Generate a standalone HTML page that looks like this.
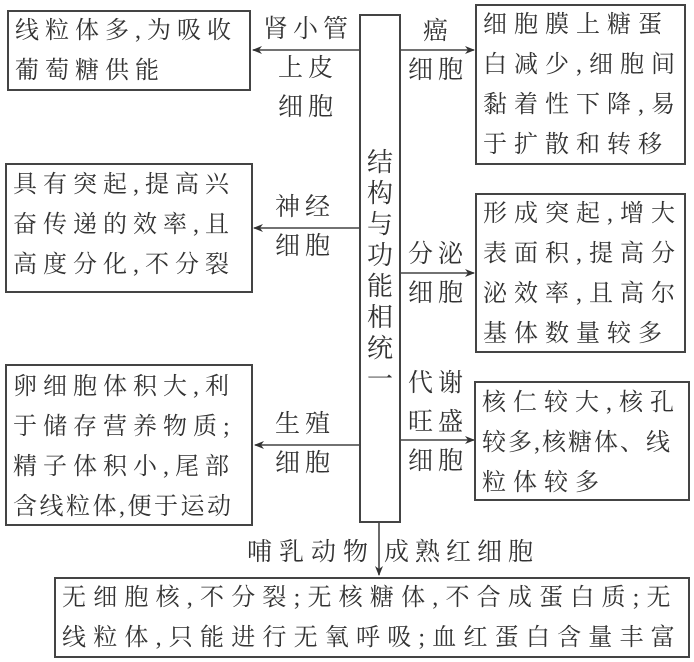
<!DOCTYPE html>
<html><head><meta charset="utf-8"><style>
body{margin:0;width:694px;height:662px;background:#fff;position:relative;overflow:hidden;font-family:"Liberation Serif","Noto Serif CJK SC",serif;color:#333}
.b{position:absolute;border:2px solid #444;box-sizing:border-box}
.t{position:absolute;font-size:24px;line-height:40px;letter-spacing:6px;white-space:nowrap}
.r{letter-spacing:7px}
.l{position:absolute;font-size:25px;line-height:39px;letter-spacing:5px;white-space:nowrap;text-align:center}
</style></head><body>
<svg width="694" height="662" style="position:absolute;left:0;top:0">
<defs><marker id="a" markerWidth="10" markerHeight="10" refX="9" refY="5" orient="auto" markerUnits="userSpaceOnUse"><path d="M0,1 L10,5 L0,9 L3,5z" fill="#333"/></marker></defs>
<g stroke="#444" stroke-width="1.6" marker-end="url(#a)">
<line x1="359" y1="50" x2="253" y2="50"/>
<line x1="359" y1="228" x2="254" y2="228"/>
<line x1="359" y1="445" x2="255" y2="445"/>
<line x1="400" y1="50" x2="474" y2="50"/>
<line x1="400" y1="273" x2="474" y2="273"/>
<line x1="400" y1="440" x2="474" y2="440"/>
<line x1="379" y1="523" x2="379" y2="575"/>
</g></svg>
<div class="b" style="left:359px;top:14px;width:42px;height:509px"></div>
<div class="l" style="left:359px;top:147px;width:42px;font-size:26px;line-height:31px;letter-spacing:0;white-space:normal">结<br>构<br>与<br>功<br>能<br>相<br>统<br>一</div>

<div class="b" style="left:7px;top:10px;width:244px;height:81px"></div>
<div class="t" style="left:15px;top:11px">线粒体多,为吸收<br>葡萄糖供能</div>
<div class="l" style="left:258px;top:10px;width:100px">肾小管<br>上皮<br>细胞</div>

<div class="b" style="left:5px;top:163px;width:248px;height:130px"></div>
<div class="t" style="left:13px;top:165px">具有突起,提高兴<br>奋传递的效率,且<br>高度分化,不分裂</div>
<div class="l" style="left:260px;top:188px;width:90px">神经<br>细胞</div>

<div class="b" style="left:5px;top:364px;width:248px;height:162px"></div>
<div class="t" style="left:13px;top:367px">卵细胞体积大,利<br>于储存营养物质;<br>精子体积小,尾部<br><span style="letter-spacing:2.5px">含线粒体,便于运动</span></div>
<div class="l" style="left:260px;top:405px;width:90px">生殖<br>细胞</div>

<div class="b" style="left:475px;top:4px;width:211px;height:161px"></div>
<div class="t r" style="left:483px;top:5px">细胞膜上糖蛋<br>白减少,细胞间<br>黏着性下降,易<br>于扩散和转移</div>
<div class="l" style="left:402px;top:12px;width:72px">癌<br>细胞</div>

<div class="b" style="left:475px;top:193px;width:211px;height:160px"></div>
<div class="t r" style="left:483px;top:194px">形成突起,增大<br>表面积,提高分<br>泌效率,且高尔<br>基体数量较多</div>
<div class="l" style="left:402px;top:235px;width:72px">分泌<br>细胞</div>

<div class="b" style="left:474px;top:381px;width:216px;height:120px"></div>
<div class="t r" style="left:482px;top:383px">核仁较大,核孔<br><span style="letter-spacing:2px">较多,核糖体、线</span><br>粒体较多</div>
<div class="l" style="left:402px;top:364px;width:72px">代谢<br>旺盛<br>细胞</div>

<div class="l" style="left:230px;top:533px;width:145px;text-align:right;letter-spacing:7px">哺乳动物</div>
<div class="l" style="left:384px;top:533px;letter-spacing:6px;text-align:left">成熟红细胞</div>

<div class="b" style="left:54px;top:577px;width:636px;height:81px"></div>
<div class="t" style="left:62px;top:578px;letter-spacing:7.2px">无细胞核,不分裂;无核糖体,不合成蛋白质;无<br>线粒体,只能进行无氧呼吸;血红蛋白含量丰富</div>
</body></html>
